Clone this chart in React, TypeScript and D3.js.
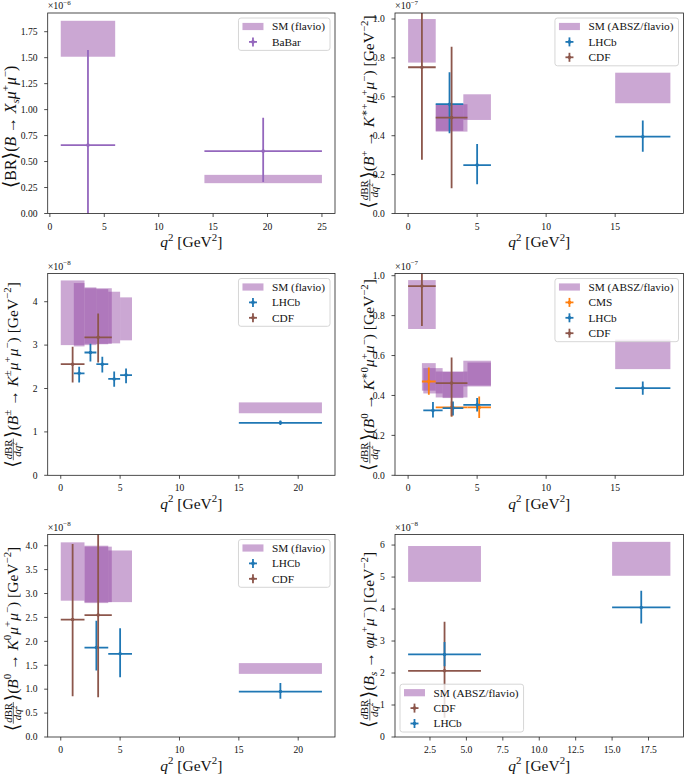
import React, { useEffect, useRef } from 'react';
import * as d3 from 'd3';

// ---------------- DATA ----------------
// SM boxes: [q2min, q2max, low, high]
// measurements: [q2, q2min, q2max, value, low, high]
const p1SM = [[1, 6, 1.509, 1.855], [14.2, 25, 0.292, 0.372]];
const p1BaBar = [[3.5, 1, 6, 0.658, -0.26, 1.573], [19.6, 14.2, 25, 0.6, 0.304, 0.921]];

const p2SM = [[0, 2, 0.776, 1.0], [2, 4, 0.425, 0.56], [2, 4.3, 0.421, 0.562], [4, 6, 0.481, 0.613], [15, 19, 0.567, 0.724]];
const p2LHCb = [[3, 2, 4, 0.562, 0.413, 0.726], [5, 4, 6, 0.249, 0.151, 0.358], [17, 15, 19, 0.395, 0.318, 0.478]];
const p2CDF = [[1, 0, 2, 0.752, 0.276, 1.23], [3.15, 2, 4.3, 0.493, 0.13, 0.858]];

const p3SM = [[0, 2, 3.0, 4.49], [1.1, 2, 2.97, 4.43], [2, 3, 3.0, 4.33], [2, 4.3, 3.03, 4.31], [3, 4, 3.02, 4.29], [4, 5, 3.04, 4.23], [5, 6, 3.11, 4.1], [15, 22, 1.43, 1.68]];
const p3LHCb = [[1.55, 1.1, 2, 2.35, 2.14, 2.5], [2.5, 2, 3, 2.83, 2.62, 3.03], [3.5, 3, 4, 2.56, 2.37, 2.73], [4.5, 4, 5, 2.22, 2.04, 2.39], [5.5, 5, 6, 2.31, 2.12, 2.46], [18.5, 15, 22, 1.21, 1.16, 1.26]];
const p3CDF = [[1, 0, 2, 2.56, 2.14, 2.96], [3.15, 2, 4.3, 3.18, 2.6, 3.73]];

const p4SM = [[0, 2, 0.733, 0.978], [1, 2, 0.424, 0.562], [1.1, 2.5, 0.41, 0.537], [2, 4.3, 0.39, 0.52], [2.5, 4, 0.387, 0.518], [4, 6, 0.445, 0.574], [4.3, 6, 0.45, 0.565], [15, 19, 0.532, 0.68]];
const p4CMS = [[1.5, 1, 2, 0.47, 0.403, 0.54], [3.15, 2, 4.3, 0.34, 0.295, 0.37], [5.15, 4.3, 6, 0.34, 0.287, 0.395]];
const p4LHCb = [[1.8, 1.1, 2.5, 0.325, 0.29, 0.367], [3.25, 2.5, 4, 0.337, 0.3, 0.37], [5, 4, 6, 0.353, 0.32, 0.387], [17, 15, 19, 0.437, 0.403, 0.47]];
const p4CDF = [[1, 0, 2, 0.948, 0.748, 1.15], [3.15, 2, 4.3, 0.462, 0.295, 0.59]];

const p5SM = [[0, 2, 2.85, 4.07], [2, 4, 2.8, 4.0], [2, 4.3, 2.82, 3.98], [4, 6, 2.82, 3.9], [15, 22, 1.32, 1.545]];
const p5LHCb = [[3, 2, 4, 1.87, 1.39, 2.43], [5, 4, 6, 1.74, 1.25, 2.275], [18.5, 15, 22, 0.95, 0.8, 1.13]];
const p5CDF = [[1, 0, 2, 2.455, 0.85, 4.035], [3.15, 2, 4.3, 2.55, 0.83, 4.27]];

const p6SM = [[1, 6, 4.85, 5.97], [15, 19, 5.04, 6.1]];
const p6CDF = [[3.5, 1, 6, 2.07, 0.6, 3.6]];
const p6LHCb = [[3.5, 1, 6, 2.58, 2.21, 2.97], [17, 15, 19, 4.05, 3.55, 4.57]];

// ticks
const p1XTicks = [0, 5, 10, 15, 20, 25];
const p1YTicks = [0, 0.25, 0.5, 0.75, 1.0, 1.25, 1.5, 1.75];
const p2XTicks = [0, 5, 10, 15];
const p2YTicks = [0, 0.2, 0.4, 0.6, 0.8, 1.0];
const p3XTicks = [0, 5, 10, 15, 20];
const p3YTicks = [0, 1, 2, 3, 4];
const p4XTicks = [0, 5, 10, 15];
const p4YTicks = [0, 0.2, 0.4, 0.6, 0.8, 1.0];
const p5XTicks = [0, 5, 10, 15, 20];
const p5YTicks = [0, 0.5, 1.0, 1.5, 2.0, 2.5, 3.0, 3.5, 4.0];
const p6XTicks = [2.5, 5, 7.5, 10, 12.5, 15, 17.5];
const p6YTicks = [0, 1, 2, 3, 4, 5, 6];

const exponents = ['−6', '−7', '−8', '−7', '−8', '−8'];
const smLabels = ['SM (flavio)', 'SM (ABSZ/flavio)', 'SM (flavio)', 'SM (ABSZ/flavio)', 'SM (flavio)', 'SM (ABSZ/flavio)'];

// colours
const C_LHCB = '#1f77b4';
const C_CDF = '#8c564b';
const C_CMS = '#ff7f0e';
const C_BABAR = '#9467bd';
const C_SM = 'rgb(145,68,162)';

// ---------------- math text pieces ----------------
type Piece = { t?: string; it?: boolean; s?: number; r?: number; frac?: Piece[][] };
const NB = '\u00a0';
const R = (t: string): Piece => ({ t });
const I = (t: string): Piece => ({ t, it: true });
const SUP = (t: string, it = false): Piece => ({ t, it, s: 0.7, r: 0.42 });
const SUB = (t: string, it = false): Piece => ({ t, it, s: 0.7, r: -0.2 });
const LA: Piece = { t: '⟨', s: 1.25, r: -0.08 };
const RA: Piece = { t: '⟩', s: 1.25, r: -0.08 };
const FR: Piece = { frac: [[I('d'), R('BR')], [I('d'), I('q'), SUP('2')]] };
const ARROW = R(NB + '→' + NB);
const MUMU = [I('μ'), SUP('+'), I('μ'), SUP('−')];
const GEV = [R(')' + NB + '[GeV'), SUP('−2'), R(']')];

const yl1 = [LA, R('BR'), RA, R('('), I('B'), ARROW, I('X'), SUB('s', true), ...MUMU, R(')')];
const yl2 = [LA, FR, RA, R('('), I('B'), SUP('+'), ARROW, I('K'), SUP('∗+'), ...MUMU, ...GEV];
const yl3 = [LA, FR, RA, R('('), I('B'), SUP('±'), ARROW, I('K'), SUP('±'), ...MUMU, ...GEV];
const yl4 = [LA, FR, RA, R('('), I('B'), SUP('0'), ARROW, I('K'), SUP('∗0'), ...MUMU, ...GEV];
const yl5 = [LA, FR, RA, R('('), I('B'), SUP('0'), ARROW, I('K'), SUP('0'), ...MUMU, ...GEV];
const yl6 = [LA, FR, RA, R('('), I('B'), SUB('s', true), ARROW, I('φ'), ...MUMU, ...GEV];
const xl = [I('q'), SUP('2'), R(NB + '[GeV'), SUP('2'), R(']')];

const FONT = '"Liberation Serif", "DejaVu Serif", serif';
const W = 685, H = 774;

const LX = [47.7, 335];
const RX = [395, 683.5];
const ROWS = [[13, 213.5], [273.5, 475.3], [534.5, 737]];

function renderRow(g: any, pieces: Piece[], size: number, x0: number, y0: number): number {
  let x = x0;
  for (const p of pieces) {
    if (p.frac) {
      const fs = size * 0.7;
      const gn = g.append('g');
      const wn = renderRow(gn, p.frac[0], fs, 0, 0);
      const gd = g.append('g');
      const wd = renderRow(gd, p.frac[1], fs, 0, 0);
      const w = Math.max(wn, wd) + size * 0.12;
      const bar = y0 - size * 0.27;
      gn.attr('transform', `translate(${x + (w - wn) / 2},${bar - size * 0.1})`);
      gd.attr('transform', `translate(${x + (w - wd) / 2},${bar + size * 0.5})`);
      g.append('line').attr('x1', x).attr('x2', x + w).attr('y1', bar).attr('y2', bar)
        .attr('stroke', '#000').attr('stroke-width', 0.6);
      x += w + size * 0.04;
    } else {
      const fs = size * (p.s ?? 1);
      const el = g.append('text').attr('x', x).attr('y', y0 - (p.r ?? 0) * size)
        .attr('font-size', fs).attr('font-style', p.it ? 'italic' : 'normal')
        .style('white-space', 'pre').text(p.t!);
      x += (el.node() as SVGTextElement).getComputedTextLength();
    }
  }
  return x - x0;
}

type Series = { name: string; color: string; pts: number[][] };

export default function App() {
  const ref = useRef<SVGSVGElement>(null);

  useEffect(() => {
    const svg = d3.select(ref.current);
    svg.selectAll('*').remove();
    svg.attr('font-family', FONT);

    const panels = [
      { xr: LX, yr: ROWS[0], xd: [-0.2, 26.2], yMax: 1.93, xt: p1XTicks, xf: (v: number) => String(v), yt: p1YTicks, yf: (v: number) => v.toFixed(2), sm: p1SM, series: [{ name: 'BaBar', color: C_BABAR, pts: p1BaBar }] as Series[], loc: 'ur', yl: yl1, ylc: 127, ylx: 16, yls: 15.8 },
      { xr: RX, yr: ROWS[0], xd: [-0.95, 19.95], yMax: 1.031, xt: p2XTicks, xf: (v: number) => String(v), yt: p2YTicks, yf: (v: number) => v.toFixed(1), sm: p2SM, series: [{ name: 'LHCb', color: C_LHCB, pts: p2LHCb }, { name: 'CDF', color: C_CDF, pts: p2CDF }] as Series[], loc: 'ur', yl: yl2, ylc: 112, ylx: 374, yls: 15.5 },
      { xr: LX, yr: ROWS[1], xd: [-1.1, 23.1], yMax: 4.65, xt: p3XTicks, xf: (v: number) => String(v), yt: p3YTicks, yf: (v: number) => String(v), sm: p3SM, series: [{ name: 'LHCb', color: C_LHCB, pts: p3LHCb }, { name: 'CDF', color: C_CDF, pts: p3CDF }] as Series[], loc: 'ur', yl: yl3, ylc: 375, ylx: 17.5, yls: 15.5 },
      { xr: RX, yr: ROWS[1], xd: [-0.95, 19.95], yMax: 1.011, xt: p4XTicks, xf: (v: number) => String(v), yt: p4YTicks, yf: (v: number) => v.toFixed(1), sm: p4SM, series: [{ name: 'CMS', color: C_CMS, pts: p4CMS }, { name: 'LHCb', color: C_LHCB, pts: p4LHCb }, { name: 'CDF', color: C_CDF, pts: p4CDF }] as Series[], loc: 'ur', yl: yl4, ylc: 375, ylx: 374, yls: 15.5 },
      { xr: LX, yr: ROWS[2], xd: [-1.1, 23.1], yMax: 4.234, xt: p5XTicks, xf: (v: number) => String(v), yt: p5YTicks, yf: (v: number) => v.toFixed(1), sm: p5SM, series: [{ name: 'LHCb', color: C_LHCB, pts: p5LHCb }, { name: 'CDF', color: C_CDF, pts: p5CDF }] as Series[], loc: 'ur', yl: yl5, ylc: 639, ylx: 17.5, yls: 15.5 },
      { xr: RX, yr: ROWS[2], xd: [0.1, 19.9], yMax: 6.33, xt: p6XTicks, xf: (v: number) => v.toFixed(1), yt: p6YTicks, yf: (v: number) => String(v), sm: p6SM, series: [{ name: 'CDF', color: C_CDF, pts: p6CDF }, { name: 'LHCb', color: C_LHCB, pts: p6LHCb }] as Series[], loc: 'll', yl: yl6, ylc: 640, ylx: 374, yls: 15.5 },
    ];

    panels.forEach((P, i) => {
      const [left, right] = P.xr;
      const [top, bottom] = P.yr;
      const x = d3.scaleLinear().domain(P.xd).range([left, right]);
      const y = d3.scaleLinear().domain([0, P.yMax]).range([bottom, top]);
      const g = svg.append('g');
      const clipId = `clip${i}`;
      svg.append('clipPath').attr('id', clipId).append('rect')
        .attr('x', left).attr('y', top).attr('width', right - left).attr('height', bottom - top);
      const plot = g.append('g').attr('clip-path', `url(#${clipId})`);

      // SM boxes
      plot.selectAll('rect.sm').data(P.sm).enter().append('rect')
        .attr('x', (d) => x(d[0])).attr('width', (d) => x(d[1]) - x(d[0]))
        .attr('y', (d) => y(d[3])).attr('height', (d) => y(d[2]) - y(d[3]))
        .attr('fill', C_SM).attr('fill-opacity', 0.47);

      // measurements
      P.series.forEach((s) => {
        const sg = plot.append('g');
        s.pts.forEach((d) => {
          sg.append('line').attr('x1', x(d[1])).attr('x2', x(d[2])).attr('y1', y(d[3])).attr('y2', y(d[3]))
            .attr('stroke', s.color).attr('stroke-width', 1.8);
          sg.append('line').attr('x1', x(d[0])).attr('x2', x(d[0])).attr('y1', y(d[4])).attr('y2', y(d[5]))
            .attr('stroke', s.color).attr('stroke-width', 1.8);
          sg.append('circle').attr('cx', x(d[0])).attr('cy', y(d[3])).attr('r', 1.8).attr('fill', s.color);
        });
      });

      // spines
      g.append('rect').attr('x', left).attr('y', top).attr('width', right - left).attr('height', bottom - top)
        .attr('fill', 'none').attr('stroke', '#222').attr('stroke-width', 0.8);

      // ticks
      P.xt.forEach((v) => {
        g.append('line').attr('x1', x(v)).attr('x2', x(v)).attr('y1', bottom).attr('y2', bottom + 3.5)
          .attr('stroke', '#222').attr('stroke-width', 0.8);
        g.append('text').attr('x', x(v)).attr('y', bottom + 16).attr('text-anchor', 'middle')
          .attr('font-size', 9.6).attr('fill', '#111').text(P.xf(v));
      });
      P.yt.forEach((v) => {
        g.append('line').attr('x1', left - 3.5).attr('x2', left).attr('y1', y(v)).attr('y2', y(v))
          .attr('stroke', '#222').attr('stroke-width', 0.8);
        g.append('text').attr('x', left - 10.2).attr('y', y(v) + 3.3).attr('text-anchor', 'end')
          .attr('font-size', 9.6).attr('fill', '#111').text(P.yf(v));
      });

      // exponent label
      const eg = g.append('g').attr('transform', `translate(${left},${top - 4})`).attr('fill', '#111');
      renderRow(eg, [R('×10'), SUP(exponents[i])], 10, 0, 0);

      // x label
      const xg = g.append('g').attr('fill', '#111');
      const inner = xg.append('g');
      const xw = renderRow(inner, xl, 15.5, 0, 0);
      inner.attr('transform', `translate(${(left + right) / 2 - xw / 2},${bottom + 33.5})`);

      // y label
      const yg = g.append('g').attr('fill', '#111').attr('transform', `translate(${P.ylx},${P.ylc}) rotate(-90)`);
      const yin = yg.append('g');
      const yw = renderRow(yin, P.yl, P.yls, 0, 0);
      yin.attr('transform', `translate(${-yw / 2},0)`);

      // legend
      const entries = [{ name: smLabels[i], sm: true, color: C_SM }, ...P.series.map((s) => ({ name: s.name, sm: false, color: s.color }))];
      const lg = g.append('g');
      const bg = lg.append('rect');
      const fs = 11.3;
      let maxW = 0;
      const texts: any[] = [];
      entries.forEach((e) => {
        const t = lg.append('text').attr('font-size', fs).attr('fill', '#111').text(e.name);
        maxW = Math.max(maxW, (t.node() as SVGTextElement).getComputedTextLength());
        texts.push(t);
      });
      const lw = 4 + 21 + 8.5 + maxW + 5;
      const lh = 17 + (entries.length - 1) * 15.4;
      let lx: number, ly: number;
      if (P.loc === 'ur') { lx = right - 5 - lw; ly = top + 5; } else { lx = left + 5; ly = bottom - 5 - lh; }
      bg.attr('x', lx).attr('y', ly).attr('width', lw).attr('height', lh).attr('rx', 2.5)
        .attr('fill', 'white').attr('fill-opacity', 0.8).attr('stroke', '#cccccc').attr('stroke-width', 0.8);
      entries.forEach((e, k) => {
        const cy = ly + 8.5 + k * 15.4;
        texts[k].attr('x', lx + 33.5).attr('y', cy + 3.8);
        if (e.sm) {
          lg.append('rect').attr('x', lx + 4).attr('y', cy - 3.6).attr('width', 21).attr('height', 7.2)
            .attr('fill', C_SM).attr('fill-opacity', 0.47);
        } else {
          const cx = lx + 14.5;
          lg.append('line').attr('x1', cx - 4).attr('x2', cx + 4).attr('y1', cy).attr('y2', cy).attr('stroke', e.color).attr('stroke-width', 1.8);
          lg.append('line').attr('x1', cx).attr('x2', cx).attr('y1', cy - 4.5).attr('y2', cy + 4.5).attr('stroke', e.color).attr('stroke-width', 1.8);
          lg.append('circle').attr('cx', cx).attr('cy', cy).attr('r', 1.8).attr('fill', e.color);
        }
        texts[k].raise();
      });
    });
  }, []);

  return (
    <svg ref={ref} width={W} height={H} style={{ position: 'absolute', left: 0, top: 0, background: 'white' }} />
  );
}
